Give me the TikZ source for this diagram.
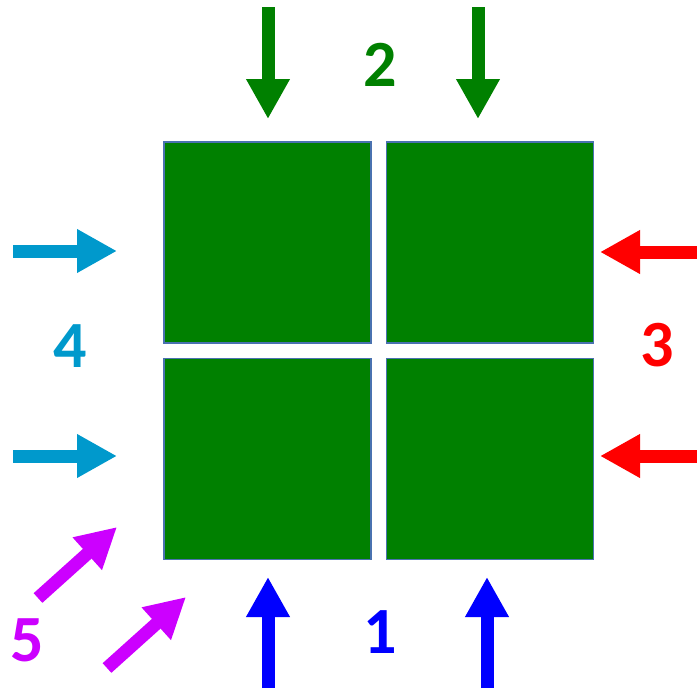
\documentclass[tikz,border=0pt]{standalone}
\usepackage{fontspec}
\setmainfont{Carlito}
\usetikzlibrary{arrows.meta}
\definecolor{padG}{HTML}{008000}
\definecolor{padEdge}{HTML}{4A72B0}
\definecolor{feedG}{HTML}{008000}
\definecolor{feedB}{HTML}{0000FF}
\definecolor{feedC}{HTML}{0099CC}
\definecolor{feedR}{HTML}{FF0000}
\definecolor{feedP}{HTML}{CC00FF}

\begin{document}
\begin{tikzpicture}[x=1pt, y=-1pt,
  pad/.style={draw=padEdge, fill=padG, line width=1.5pt, inner sep=0pt,
    minimum width=207pt, minimum height=201pt},
  feed/.style={line width=13pt, -{Triangle[length=40pt, width=41pt]}},
  num/.style={font=\fontsize{66}{70}\selectfont\bfseries}]
  \path[use as bounding box] (0,0) rectangle (697,691);

  % four square pads
  \node[pad] (tl) at (267.5,242.5) {};
  \node[pad] (tr) at (490,242.5) {};
  \node[pad] (bl) at (267.5,459) {};
  \node[pad] (br) at (490,459) {};

  % arrow ends
  \foreach \n/\x/\y in {g1/268/7, g2/478/7, b1/268/688, b2/487/688,
    c1/13/251, c2/13/456, r1/697/252, r2/697/456, p1/38/598, p2/107/668}{
    \coordinate (\n s) at (\x,\y);
  }
  \foreach \n/\x/\y in {g1/268/119, g2/478/119, b1/268/577, b2/487/577,
    c1/117/251, c2/117/456, r1/600/252, r2/600/456, p1/117/527, p2/186/597}{
    \coordinate (\n e) at (\x,\y);
  }

  \foreach \n in {g1,g2} \draw[feed, feedG] (\n s) -- (\n e);
  \foreach \n in {b1,b2} \draw[feed, feedB] (\n s) -- (\n e);
  \foreach \n in {c1,c2} \draw[feed, feedC] (\n s) -- (\n e);
  \foreach \n in {r1,r2} \draw[feed, feedR] (\n s) -- (\n e);
  \foreach \n in {p1,p2} \draw[feed, feedP] (\n s) -- (\n e);

  % side numbers
  \node[num, text=feedG] (n2) at (380,65) {2};
  \node[num, text=feedB] (n1) at (380,632) {1};
  \node[num, text=feedC] (n4) at (70,346) {4};
  \node[num, text=feedR] (n3) at (657,345) {3};
  \node[num, text=feedP] (n5) at (27,640) {5};
\end{tikzpicture}
\end{document}
